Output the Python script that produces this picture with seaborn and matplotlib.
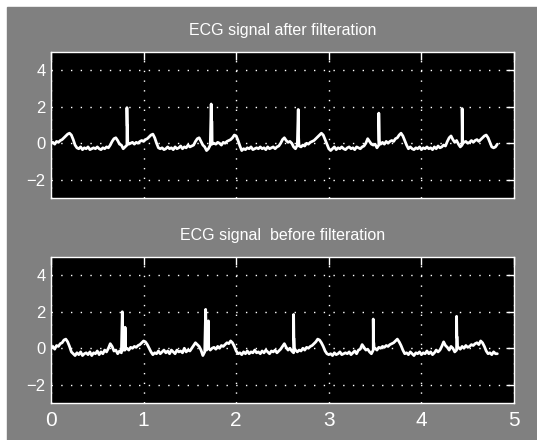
import numpy as np
import pandas as pd
import matplotlib
matplotlib.use("Agg")
import matplotlib.pyplot as plt
import seaborn as sns

# ─────────────────────────────────────────────────────────────────────
# DATA (0.02 s samples, one row = 0.2 s)
# ─────────────────────────────────────────────────────────────────────

STEP = 0.02

after_vals = [
    0.0, 0.05, -0.05, 0.1, 0.05, 0.15, 0.2, 0.3, 0.4, 0.5,
    0.55, 0.45, 0.2, -0.1, -0.25, -0.3, -0.2, -0.35, -0.25, -0.3,
    -0.2, -0.35, -0.3, -0.25, -0.3, -0.2, -0.3, -0.35, -0.25, -0.3,
    -0.2, -0.25, -0.1, 0.1, 0.25, 0.3, 0.15, -0.05, -0.1, -0.3,
    -0.2, -0.1, -0.05, 0.0, 0.05, -0.05, 0.05, 0.0, 0.1, 0.15,
    0.1, 0.2, 0.25, 0.35, 0.45, 0.5, 0.3, 0.0, -0.25, -0.3,
    -0.25, -0.35, -0.3, -0.2, -0.3, -0.25, -0.35, -0.2, -0.3, -0.25,
    -0.15, -0.3, -0.2, -0.25, -0.1, -0.2, -0.15, -0.1, 0.1, 0.25,
    0.3, 0.1, -0.1, -0.2, -0.4, -0.3, -0.1, -0.05, 0.0, -0.05,
    0.05, 0.0, -0.1, 0.05, 0.0, 0.1, 0.15, 0.2, 0.3, 0.45,
    0.4, 0.15, -0.15, -0.4, -0.3, -0.35, -0.25, -0.3, -0.2, -0.35,
    -0.3, -0.25, -0.3, -0.2, -0.3, -0.25, -0.35, -0.2, -0.3, -0.25,
    -0.2, -0.3, -0.2, -0.15, 0.0, 0.2, 0.3, 0.15, 0.05, 0.1,
    0.0, -0.2, -0.3, -0.1, -0.15, -0.2, -0.1, -0.15, 0.0, -0.05,
    0.05, 0.1, 0.15, 0.25, 0.35, 0.45, 0.55, 0.45, 0.2, -0.05,
    -0.3, -0.4, -0.3, -0.2, -0.35, -0.25, -0.3, -0.2, -0.3, -0.35,
    -0.25, -0.2, -0.3, -0.25, -0.35, -0.2, -0.25, -0.3, -0.2, -0.15,
    0.0, 0.25, 0.1, -0.05, -0.1, -0.05, -0.25, -0.1, -0.05, 0.05,
    -0.05, 0.1, 0.0, 0.1, 0.15, 0.1, 0.25, 0.3, 0.45, 0.55,
    0.4, 0.15, -0.1, -0.3, -0.2, -0.3, -0.35, -0.25, -0.3, -0.2,
    -0.35, -0.25, -0.3, -0.2, -0.3, -0.25, -0.35, -0.2, -0.3, -0.15,
    -0.25, -0.2, -0.1, -0.15, 0.1, 0.3, 0.4, 0.2, 0.05, 0.15,
    -0.05, -0.2, -0.1, 0.05, 0.1, 0.0, 0.05, 0.15, 0.05, 0.15,
    0.2, 0.1, 0.2, 0.3, 0.4, 0.45, 0.3, 0.05, -0.2, -0.25,
    -0.2, -0.05,
]
after_r_t = [0.82, 1.73, 2.67, 3.54, 4.44]
after_r_peak = [1.95, 2.15, 1.85, 1.65, 1.9]
after_r_shoulder = [0.95, 1.2, 0.3, 0.2, 0.4]
after_r_width = [0.006, 0.008, 0.004, 0.004, 0.004]

before_vals = [
    0.0, 0.1, -0.05, 0.15, 0.1, 0.25, 0.3, 0.45, 0.5, 0.35,
    0.1, -0.2, -0.3, -0.4, -0.25, -0.35, -0.2, -0.4, -0.3, -0.25,
    -0.35, -0.2, -0.4, -0.25, -0.3, -0.15, -0.35, -0.2, -0.3, -0.1,
    -0.2, 0.0, 0.25, 0.1, -0.15, -0.1, -0.3, -0.15, -0.25, -0.1,
    -0.1, 0.0, -0.1, 0.05, 0.0, 0.1, 0.05, 0.15, 0.2, 0.3,
    0.4, 0.35, 0.2, 0.0, -0.2, -0.35, -0.25, -0.3, -0.15, -0.3,
    -0.2, -0.1, -0.25, -0.15, -0.3, -0.1, -0.2, -0.3, -0.1, -0.2,
    -0.15, -0.25, 0.0, -0.2, -0.1, -0.15, 0.0, 0.15, 0.3, 0.2,
    0.1, -0.1, -0.4, -0.2, -0.1, 0.05, -0.1, 0.0, 0.05, -0.05,
    0.1, 0.0, 0.15, 0.1, 0.2, 0.3, 0.25, 0.4, 0.3, 0.1,
    -0.15, -0.3, -0.25, -0.35, -0.2, -0.3, -0.15, -0.3, -0.2, -0.25,
    -0.1, -0.25, -0.2, -0.3, -0.15, -0.25, -0.1, -0.2, -0.3, -0.15,
    -0.2, -0.1, -0.25, -0.15, -0.05, 0.1, 0.25, 0.05, -0.1, 0.0,
    -0.15, -0.25, -0.1, -0.2, -0.1, -0.15, 0.0, -0.1, 0.05, 0.0,
    0.1, 0.15, 0.25, 0.35, 0.5, 0.45, 0.3, 0.1, -0.15, -0.3,
    -0.35, -0.3, -0.4, -0.25, -0.35, -0.3, -0.2, -0.35, -0.3, -0.25,
    -0.3, -0.2, -0.35, -0.25, -0.15, -0.3, -0.1, -0.05, 0.2, 0.05,
    -0.1, -0.05, -0.2, -0.3, -0.1, 0.0, -0.1, 0.05, 0.0, 0.1,
    0.05, 0.15, 0.1, 0.2, 0.25, 0.3, 0.4, 0.5, 0.35, 0.15,
    -0.1, -0.3, -0.25, -0.35, -0.2, -0.3, -0.4, -0.25, -0.3, -0.2,
    -0.35, -0.25, -0.3, -0.15, -0.3, -0.2, -0.35, -0.25, -0.1, -0.2,
    -0.1, 0.1, 0.35, 0.15, 0.05, -0.1, 0.1, 0.0, -0.2, -0.1,
    0.05, -0.05, 0.1, 0.0, 0.15, 0.05, 0.1, 0.2, 0.15, 0.25,
    0.3, 0.2, 0.4, 0.3, 0.1, -0.15, -0.3, -0.25, -0.35, -0.2,
    -0.3, -0.3,
]
before_r_t = [0.77, 1.67, 2.62, 3.48, 4.38]
before_r_peak = [2.0, 2.13, 1.85, 1.6, 1.75]
before_r_shoulder = [1.15, 1.5, 0.5, 0.3, 0.6]
before_r_width = [0.03, 0.03, 0.006, 0.006, 0.008]

titles = ["ECG signal after filteration", "ECG signal  before filteration"]
x_ticks = [0, 1, 2, 3, 4, 5]
y_ticks = [-2, 0, 2, 4]

BG = "#808080"


def build_trace(vals, r_t, r_peak, r_shoulder, r_width):
    """Samples on the grid plus the narrow R spikes."""
    t = np.round(np.arange(len(vals)) * STEP, 3)
    pts = list(zip(t, vals))
    for tt, pk, sh, w in zip(r_t, r_peak, r_shoulder, r_width):
        pts += [(tt, pk), (tt + 0.003, sh), (tt + w, sh), (tt + w + 0.003, 0.0)]
    pts.sort()
    return pd.DataFrame(pts, columns=["t", "v"])


def style_axes(ax, title, show_xlabels):
    ax.set_facecolor("black")
    ax.set_xlim(0, 5)
    ax.set_ylim(-3, 5)
    ax.set_xticks(x_ticks)
    ax.set_yticks(y_ticks)
    ax.grid(True, color="white", linestyle=(0, (1, 6)), linewidth=1.0)
    ax.set_axisbelow(True)
    for s in ax.spines.values():
        s.set_color("white")
        s.set_linewidth(1.0)
        s.set_visible(True)
    ax.tick_params(direction="in", length=6, color="white", width=1,
                   top=True, right=True, labelcolor="white")
    ax.tick_params(axis="y", labelsize=12, pad=4)
    ax.tick_params(axis="x", labelsize=15, pad=6)
    if not show_xlabels:
        ax.set_xticklabels([])
    ax.set_xlabel("")
    ax.set_ylabel("")
    ax.set_title(title, color="white", fontsize=11.5, pad=12)


sns.set_style("dark")
plt.rcParams["font.family"] = ["Liberation Sans Narrow", "Liberation Sans", "DejaVu Sans"]

fig = plt.figure(figsize=(5.37, 4.40), dpi=100)
fig.patch.set_facecolor("white")
fig.add_artist(plt.Rectangle((7 / 537, 0), 1, 433 / 440, transform=fig.transFigure,
                             color=BG, zorder=-10))

ax_top = fig.add_axes([51 / 537, 1 - 198 / 440, 463 / 537, 146 / 440])
ax_bot = fig.add_axes([51 / 537, 1 - 403 / 440, 463 / 537, 146 / 440])

df_after = build_trace(after_vals, after_r_t, after_r_peak, after_r_shoulder, after_r_width)
df_before = build_trace(before_vals, before_r_t, before_r_peak, before_r_shoulder, before_r_width)

sns.lineplot(data=df_after, x="t", y="v", ax=ax_top, color="white",
             linewidth=2.0, sort=False, estimator=None)
sns.lineplot(data=df_before, x="t", y="v", ax=ax_bot, color="white",
             linewidth=2.0, sort=False, estimator=None)

style_axes(ax_top, titles[0], False)
style_axes(ax_bot, titles[1], True)

fig.savefig("out.png", dpi=100, facecolor=fig.get_facecolor())
